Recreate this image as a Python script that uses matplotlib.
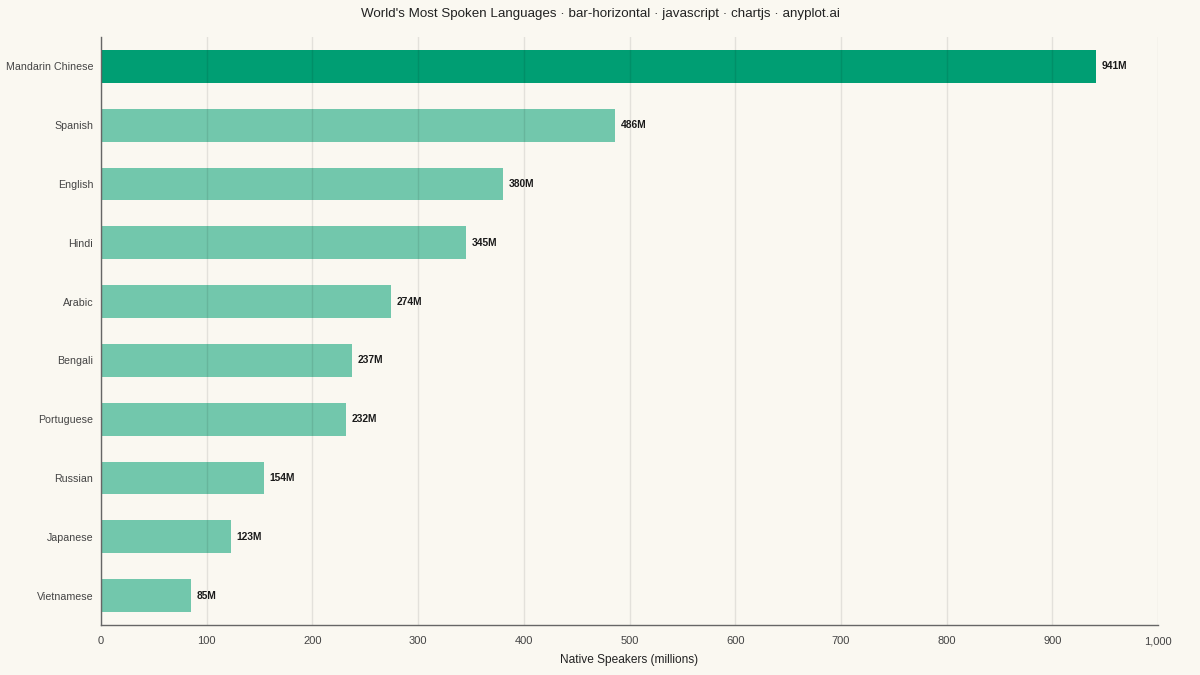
import matplotlib.pyplot as plt
from matplotlib.ticker import FuncFormatter

# dados
languages = ['Mandarin Chinese', 'Spanish', 'English', 'Hindi', 'Arabic',
             'Bengali', 'Portuguese', 'Russian', 'Japanese', 'Vietnamese']
speakers = [941, 486, 380, 345, 274, 237, 232, 154, 123, 85]

plt.rcParams['font.family'] = ['Liberation Sans', 'DejaVu Sans']

bg = '#FAF8F1'
verde = '#009E73'

fig = plt.figure(figsize=(12, 6.75), dpi=100, facecolor=bg)
ax = fig.add_axes([101 / 1200, 1 - 625 / 675, 1057 / 1200, 588 / 675])
ax.set_facecolor(bg)

y = list(range(len(languages)))
alphas = [1.0] + [0.54] * (len(languages) - 1)
for yi, v, a in zip(y, speakers, alphas):
    ax.barh(yi, v, height=0.56, color=verde, alpha=a, zorder=1)
    ax.text(v + 5.5, yi, f'{v}M', va='center', ha='left', fontsize=7.4,
            fontweight='bold', color='#1a1a1a', zorder=3)

ax.set_ylim(len(languages) - 0.5, -0.5)
ax.set_yticks(y)
ax.set_yticklabels(languages)
ax.set_xlim(0, 1000)
ax.set_xticks(range(0, 1001, 100))
ax.xaxis.set_major_formatter(FuncFormatter(lambda x, p: f'{int(x):,}'))

# grade vertical por cima das barras
ax.grid(axis='x', color='black', alpha=0.09, linewidth=1, zorder=2)
ax.set_axisbelow(False)

for s in ['top', 'right']:
    ax.spines[s].set_visible(False)
for s in ['left', 'bottom']:
    ax.spines[s].set_color('#666666')
    ax.spines[s].set_linewidth(1)
    ax.spines[s].set_zorder(4)

ax.tick_params(axis='both', length=0, colors='#444444')
ax.tick_params(axis='x', pad=8, labelsize=8)
ax.tick_params(axis='y', pad=5.5, labelsize=7.7)

ax.set_xlabel('Native Speakers (millions)', fontsize=8.6, color='#222222', labelpad=6)
fig.suptitle("World's Most Spoken Languages · bar-horizontal · javascript · chartjs · anyplot.ai",
             fontsize=9.65, color='#222222', y=1 - 14.5 / 675, va='center')

fig.savefig('out.png', dpi=100, facecolor=bg)
